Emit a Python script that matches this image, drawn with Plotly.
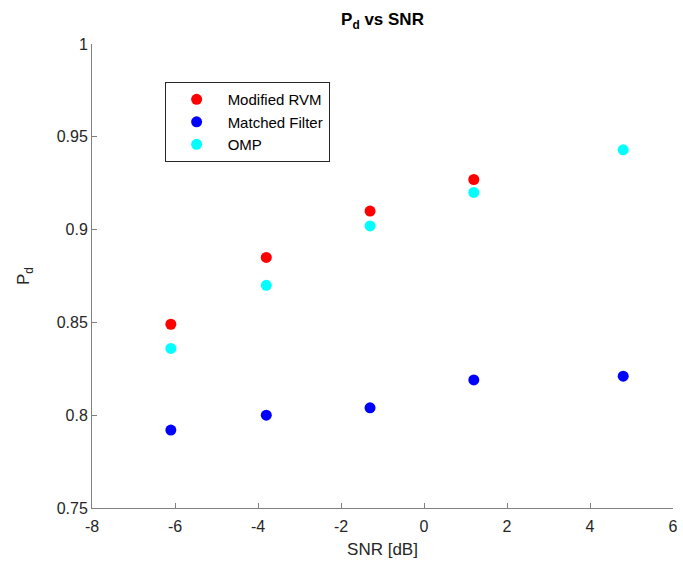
import plotly.graph_objects as go

snr_rvm = [-6.1, -3.8, -1.3, 1.2]
pd_rvm = [0.849, 0.885, 0.910, 0.927]
snr_mf = [-6.1, -3.8, -1.3, 1.2, 4.8]
pd_mf = [0.792, 0.800, 0.804, 0.819, 0.821]
snr_omp = [-6.1, -3.8, -1.3, 1.2, 4.8]
pd_omp = [0.836, 0.870, 0.902, 0.920, 0.943]

xticks = [-8, -6, -4, -2, 0, 2, 4, 6]
yticks = [0.75, 0.8, 0.85, 0.9, 0.95, 1]

FONT = "Liberation Sans, Arial, sans-serif"
AX = "#262626"

fig = go.Figure()
for name, xs, ys, col in [("Modified RVM", snr_rvm, pd_rvm, "#ff0000"),
                          ("Matched Filter", snr_mf, pd_mf, "#0000ff"),
                          ("OMP", snr_omp, pd_omp, "#00ffff")]:
    fig.add_trace(go.Scatter(x=xs, y=ys, mode="markers", name=name,
                             marker=dict(color=col, size=11, line=dict(width=0))))

axis_common = dict(showline=True, linecolor="#808080", linewidth=1, ticks="inside",
                   ticklen=5, tickcolor="#808080", showgrid=False, zeroline=False,
                   tickfont=dict(family=FONT, size=16, color=AX), mirror=False)

fig.update_layout(
    width=683, height=569,
    margin=dict(l=92, r=5, t=44, b=61),
    paper_bgcolor="white", plot_bgcolor="white",
    title=dict(text="<b>P<sub>d</sub> vs SNR</b>", x=0.5, xanchor="center",
               xref="paper", y=0.966, yanchor="middle",
               font=dict(family=FONT, size=17, color="#000000")),
    xaxis=dict(range=[-8, 6], tickvals=xticks, ticktext=[f"{v:d}" for v in xticks],
               ticklabelstandoff=4,
               title=dict(text="SNR [dB]", font=dict(family=FONT, size=17, color=AX), standoff=8),
               **axis_common),
    yaxis=dict(range=[0.75, 1], tickvals=yticks, ticktext=[f"{v:g}" for v in yticks],
               title=dict(text="P<sub>d</sub>", font=dict(family=FONT, size=17, color=AX), standoff=22),
               **axis_common),
    legend=dict(x=0.125, y=0.918, xanchor="left", yanchor="top",
                bordercolor="#262626", borderwidth=1, bgcolor="white",
                font=dict(family=FONT, size=15, color="#000000"),
                itemwidth=52, tracegroupgap=0),
    showlegend=True,
)

fig.write_html("out.html")
